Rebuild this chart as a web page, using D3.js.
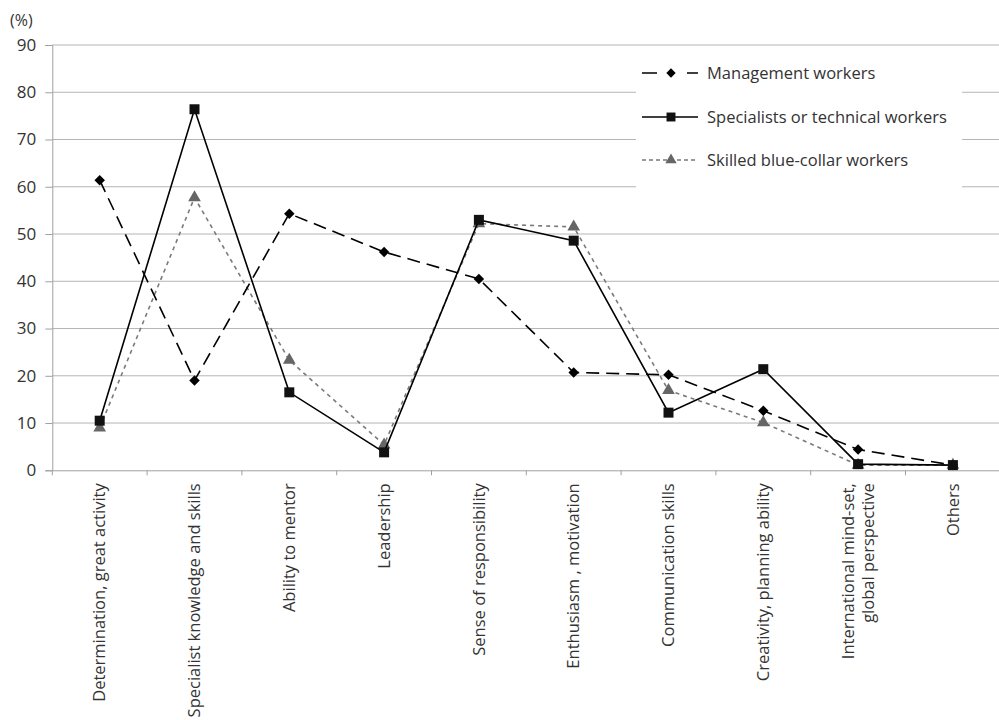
<!DOCTYPE html>
<html>
<head>
<meta charset="utf-8">
<script src="https://cdn.jsdelivr.net/npm/d3@7"></script>
<style>
  html, body { margin: 0; padding: 0; background: #fff; }
  svg { display: block; font-family: "Open Sans", "Noto Sans", sans-serif; }
</style>
</head>
<body>
<svg id="chart" width="999" height="720"></svg>
<script>
// Qualities sought, by worker type (%)
const categories = [
  "Determination, great activity",
  "Specialist knowledge and skills",
  "Ability to mentor",
  "Leadership",
  "Sense of responsibility",
  "Enthusiasm , motivation",
  "Communication skills",
  "Creativity, planning ability",
  "International mind-set,\nglobal perspective",
  "Others"
];
const seriesNames = [
  "Management workers",
  "Specialists or technical workers",
  "Skilled blue-collar workers"
];
const management = [61.4, 19.0, 54.3, 46.2, 40.5, 20.7, 20.2, 12.6, 4.4, 1.1];
const specialists = [10.5, 76.4, 16.5, 3.8, 53.0, 48.6, 12.2, 21.4, 1.3, 1.1];
const skilled = [9.0, 57.7, 23.3, 5.4, 52.2, 51.5, 16.9, 10.1, 1.1, 1.1];
const yTicks = [0, 10, 20, 30, 40, 50, 60, 70, 80, 90];

const svg = d3.select("#chart");
const plotLeft = 52.3, plotRight = 1000.3, plotTop = 45, plotBottom = 470.3;

const x = d3.scaleBand().domain(d3.range(categories.length)).range([plotLeft, plotRight]).padding(0);
const y = d3.scaleLinear().domain([0, 90]).range([plotBottom, plotTop]);
const cx = i => x(i) + x.bandwidth() / 2;

// horizontal gridlines
svg.append("g").selectAll("line").data(yTicks.filter(t => t > 0)).join("line")
  .attr("x1", plotLeft).attr("x2", plotRight)
  .attr("y1", d => y(d)).attr("y2", d => y(d))
  .attr("stroke", "#b5b5b5").attr("stroke-width", 1);

// y axis
const yAxis = svg.append("g").attr("transform", `translate(${plotLeft},0)`)
  .call(d3.axisLeft(y).tickValues(yTicks).tickSize(7).tickPadding(9));
yAxis.select(".domain").attr("stroke", "#a0a0a0");
yAxis.selectAll(".tick line").attr("stroke", "#a0a0a0");
yAxis.selectAll("text").attr("font-size", 17).attr("fill", "#333")
  .attr("font-family", "'Open Sans', sans-serif");

svg.append("text").attr("x", 10).attr("y", 26).attr("font-size", 16)
  .attr("fill", "#333").text("(%)");

// x axis
const xAxis = svg.append("g").attr("transform", `translate(0,${plotBottom})`)
  .call(d3.axisBottom(x).tickValues([]).tickSizeOuter(0));
xAxis.select(".domain").attr("stroke", "#a0a0a0");
svg.append("g").selectAll("line").data(d3.range(categories.length + 1)).join("line")
  .attr("x1", i => plotLeft + i * x.bandwidth()).attr("x2", i => plotLeft + i * x.bandwidth())
  .attr("y1", plotBottom).attr("y2", plotBottom + 5)
  .attr("stroke", "#a0a0a0");

// category labels, rotated
const lab = svg.append("g").selectAll("text").data(categories).join("text")
  .attr("transform", (d, i) => `translate(${cx(i)},${plotBottom + 13}) rotate(-90)`)
  .attr("text-anchor", "end").attr("font-size", 16.5).attr("fill", "#333");
lab.each(function(d) {
  const lines = d.split("\n");
  const n = lines.length;
  d3.select(this).selectAll("tspan").data(lines).join("tspan")
    .attr("x", 0)
    .attr("dy", (l, k) => k === 0 ? `${0.35 - (n - 1) * 0.6}em` : "1.2em")
    .text(l => l);
});

// series
const series = [
  { name: seriesNames[0], values: management, color: "#000", dash: "13,7", legendDash: "15,30,15", marker: "diamond", mcolor: "#000", msize: 70 },
  { name: seriesNames[1], values: specialists, color: "#000", dash: null, legendDash: null, marker: "square", mcolor: "#111", msize: 100 },
  { name: seriesNames[2], values: skilled, color: "#7a7a7a", dash: "4,4", legendDash: "4,3", marker: "triangle", mcolor: "#666", msize: 70 }
];
const symbolType = {
  diamond: d3.symbolDiamond2 || d3.symbolDiamond,
  square: d3.symbolSquare,
  triangle: d3.symbolTriangle
};

const line = d3.line().x((d, i) => cx(i)).y(d => y(d));

// legend background box
const lg = { x: 636, y: 49, w: 326, h: 150 };
svg.append("rect").attr("x", lg.x).attr("y", lg.y).attr("width", lg.w).attr("height", lg.h)
  .attr("fill", "#fff");

// draw back-to-front: skilled, management, specialists
[series[2], series[0], series[1]].forEach(s => {
  svg.append("path").datum(s.values)
    .attr("d", line).attr("fill", "none")
    .attr("stroke", s.color).attr("stroke-width", 1.6)
    .attr("stroke-dasharray", s.dash);
  svg.append("g").selectAll("path").data(s.values).join("path")
    .attr("transform", (d, i) => `translate(${cx(i)},${y(d)})`)
    .attr("d", d3.symbol().type(symbolType[s.marker]).size(s.msize))
    .attr("fill", s.mcolor);
});

// legend
const legendYs = [73, 117, 160];
series.forEach((s, k) => {
  const g = svg.append("g").attr("transform", `translate(0,${legendYs[k]})`);
  g.append("line").attr("x1", 642).attr("x2", 698).attr("y1", 0).attr("y2", 0)
    .attr("stroke", s.color).attr("stroke-width", 1.6)
    .attr("stroke-dasharray", s.legendDash);
  g.append("path").attr("transform", "translate(671,0)")
    .attr("d", d3.symbol().type(symbolType[s.marker]).size(s.msize * 0.8))
    .attr("fill", s.mcolor);
  g.append("text").attr("x", 707).attr("y", 0).attr("dy", "0.35em")
    .attr("font-size", 16.5).attr("fill", "#333").text(s.name);
});
</script>
</body>
</html>
